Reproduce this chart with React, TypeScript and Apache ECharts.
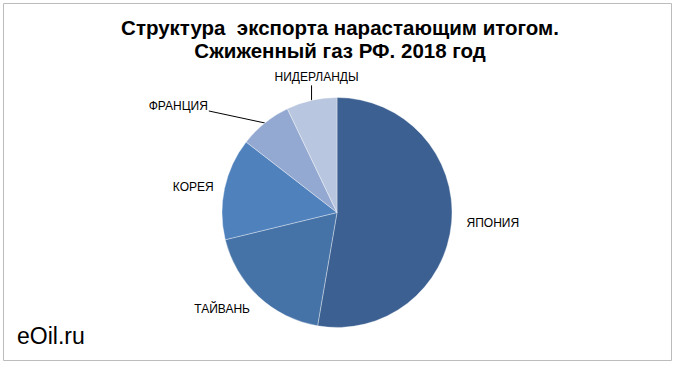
import React, { useEffect, useRef } from "react";
import * as echarts from "echarts";

const countries = ["ЯПОНИЯ", "ТАЙВАНЬ", "КОРЕЯ", "ФРАНЦИЯ", "НИДЕРЛАНДЫ"];
const shares = [52.7, 18.5, 14.3, 7.4, 7.1];
const colors = ["#3c6091", "#4673a7", "#4f81bd", "#94a9d1", "#b9c6df"];
const titleLines = ["Структура  экспорта нарастающим итогом.", "Сжиженный газ РФ. 2018 год"];
const watermark = "eOil.ru";

export default function App() {
  const ref = useRef<HTMLDivElement>(null);
  useEffect(() => {
    document.body.style.margin = "0";
    const chart = echarts.init(ref.current!, null, { renderer: "svg" });
    const lineCfg = [
      { show: false, length: 5, length2: 5, dist: 5 },
      { show: false, length: 17, length2: 0, dist: 0 },
      { show: false, length: 7, length2: 0, dist: 4 },
      { show: true, length: 19, length2: 42, dist: 3 },
      { show: true, length: 15, length2: 0, dist: 5 },
    ];
    chart.setOption({
      animation: false,
      title: {
        text: titleLines.join("\n"),
        left: "center",
        top: 11,
        textStyle: {
          fontFamily: "Liberation Sans, Arial, sans-serif",
          fontWeight: "bold",
          fontSize: 20.5,
          lineHeight: 23,
          color: "#000",
        },
      },
      graphic: [
        {
          type: "rect",
          shape: { x: 3.5, y: 3.5, width: 668, height: 357 },
          style: { fill: "none", stroke: "#bcbcbc", lineWidth: 1 },
          silent: true,
        },
        {
          type: "text",
          left: 17,
          top: 324,
          style: {
            text: watermark,
            fontFamily: "Liberation Sans, Arial, sans-serif",
            fontSize: 23,
            fill: "#000",
          },
        },
      ],
      series: [
        {
          type: "pie",
          center: [337, 212.5],
          radius: 115,
          startAngle: 90,
          clockwise: true,
          avoidLabelOverlap: false,
          itemStyle: { borderColor: "rgba(255,255,255,0.6)", borderWidth: 0.6 },
          label: {
            show: true,
            position: "outside",
            color: "#000",
            fontFamily: "Liberation Sans, Arial, sans-serif",
            fontSize: 12,
            formatter: "{b}",
          },
          labelLine: { lineStyle: { color: "#000", width: 1 } },
          labelLayout: (p: any) => {
            if (p.dataIndex === 4 && p.labelLinePoints) {
              const e = p.labelLinePoints[0];
              return {
                x: e[0] + 5,
                y: e[1] - 23,
                align: "center",
                verticalAlign: "middle",
                labelLinePoints: [e, [e[0], e[1] - 15], [e[0], e[1] - 15]],
              };
            }
            if (p.dataIndex === 3 && p.labelLinePoints) {
              const e = p.labelLinePoints[0];
              return {
                x: e[0] - 57,
                y: e[1] - 17,
                align: "right",
                verticalAlign: "middle",
                labelLinePoints: [e, [e[0] - 56, e[1] - 12], [e[0] - 56, e[1] - 12]],
              };
            }
            if (p.dataIndex === 1) {
              return { dx: 3 };
            }
            return {};
          },
          data: countries.map((name, i) => ({
            name,
            value: shares[i],
            itemStyle: { color: colors[i] },
            label: { distanceToLabelLine: lineCfg[i].dist },
            labelLine: {
              show: lineCfg[i].show,
              length: lineCfg[i].length,
              length2: lineCfg[i].length2,
            },
          })),
        },
      ],
    });
    return () => chart.dispose();
  }, []);
  return <div ref={ref} style={{ width: 680, height: 367 }} />;
}
